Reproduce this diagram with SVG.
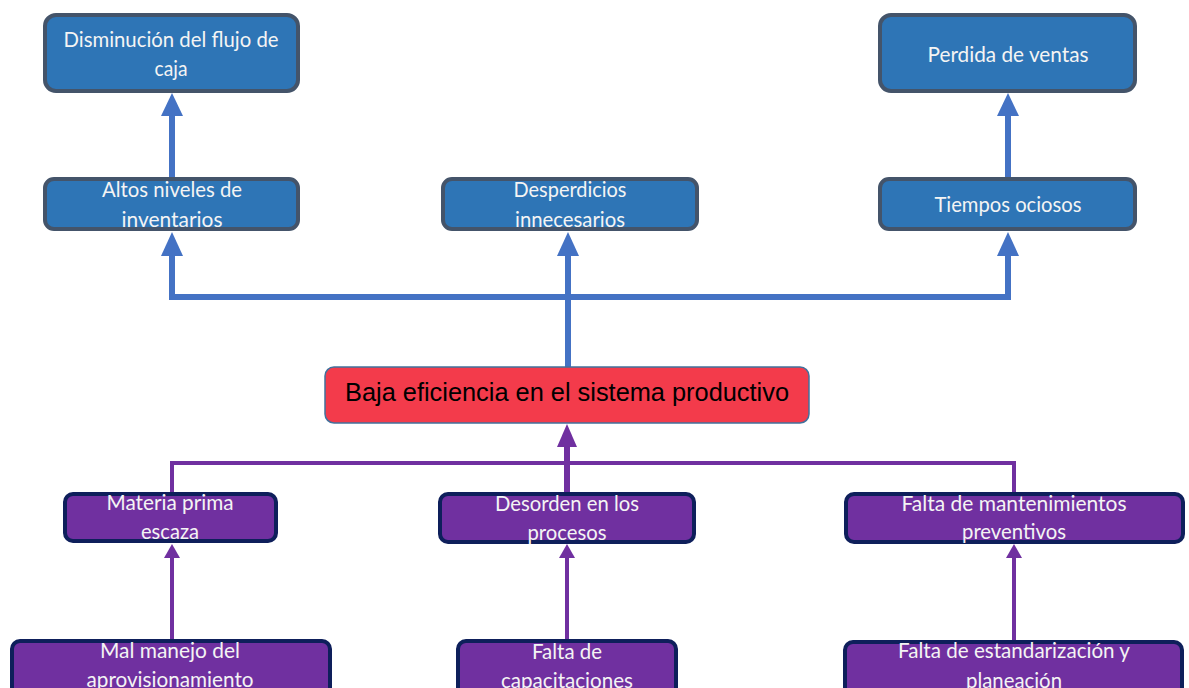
<svg xmlns="http://www.w3.org/2000/svg" width="1189" height="688" viewBox="0 0 1189 688">
  <defs>
    <style>
      .eff { fill: #2E75B6; stroke: #44546A; stroke-width: 4; }
      .cause { fill: #7030A0; stroke: #0E1F5B; stroke-width: 4; }
      .core { fill: #F33B4B; stroke: #41719C; stroke-width: 1.5; }
      .lbl { font-family: Lato, "Open Sans", "Noto Sans", sans-serif; font-size: 22px; fill: #F4F4F4; text-anchor: middle; }
      .core-lbl { font-family: "Liberation Sans", Arial, sans-serif; font-size: 25px; fill: #000000; text-anchor: middle; }
      .blue { stroke: #4472C4; stroke-width: 6; fill: none; }
      .purple { stroke: #7030A0; stroke-width: 4; fill: none; }
      .purple-thick { stroke: #7030A0; stroke-width: 6; fill: none; }
      .head-blue { fill: #4472C4; }
      .head-purple { fill: #7030A0; }
    </style>
  </defs>

  <rect width="1189" height="688" fill="#FFFFFF"/>

  <!-- connectors -->
  <g id="connectors">
    <!-- effects tree (blue) -->
    <polyline class="blue" points="172,256 172,297 1008,297 1008,256"/>
    <line class="blue" x1="568" y1="367" x2="568" y2="256"/>
    <polygon class="head-blue" points="172,232 161,256 183,256"/>
    <polygon class="head-blue" points="568,232 557,256 579,256"/>
    <polygon class="head-blue" points="1008,232 997,256 1019,256"/>
    <line class="blue" x1="172" y1="178" x2="172" y2="115"/>
    <polygon class="head-blue" points="172,93 161,116 183,116"/>
    <line class="blue" x1="1008" y1="178" x2="1008" y2="115"/>
    <polygon class="head-blue" points="1008,93 997,116 1019,116"/>

    <!-- causes tree (purple) -->
    <polyline class="purple" points="172,492 172,463 1014,463 1014,492"/>
    <line class="purple-thick" x1="567" y1="492" x2="567" y2="445"/>
    <polygon class="head-purple" points="567,424 557,447 577,447"/>
    <line class="purple" x1="172" y1="640" x2="172" y2="556"/>
    <polygon class="head-purple" points="172,544 164,558 180,558"/>
    <line class="purple" x1="567" y1="640" x2="567" y2="556"/>
    <polygon class="head-purple" points="567,544 559,558 575,558"/>
    <line class="purple" x1="1014" y1="640" x2="1014" y2="556"/>
    <polygon class="head-purple" points="1014,544 1006,558 1022,558"/>
  </g>

  <!-- effects -->
  <g id="node-disminucion">
    <rect class="eff" x="45" y="15" width="253" height="76" rx="11"/>
    <text class="lbl" x="171" y="47" textLength="215" lengthAdjust="spacingAndGlyphs">Disminución del flujo de</text>
    <text class="lbl" x="171" y="76" textLength="33" lengthAdjust="spacingAndGlyphs">caja</text>
  </g>
  <g id="node-perdida">
    <rect class="eff" x="880" y="15" width="255" height="76" rx="11"/>
    <text class="lbl" x="1008" y="62" textLength="161" lengthAdjust="spacingAndGlyphs">Perdida de ventas</text>
  </g>
  <g id="node-altos">
    <rect class="eff" x="45" y="179" width="253" height="50" rx="9"/>
    <text class="lbl" x="172" y="197" textLength="140" lengthAdjust="spacingAndGlyphs">Altos niveles de</text>
    <text class="lbl" x="172" y="227" textLength="101" lengthAdjust="spacingAndGlyphs">inventarios</text>
  </g>
  <g id="node-desperdicios">
    <rect class="eff" x="443" y="179" width="254" height="50" rx="9"/>
    <text class="lbl" x="570" y="197" textLength="113" lengthAdjust="spacingAndGlyphs">Desperdicios</text>
    <text class="lbl" x="570" y="227" textLength="110" lengthAdjust="spacingAndGlyphs">innecesarios</text>
  </g>
  <g id="node-tiempos">
    <rect class="eff" x="880" y="179" width="255" height="50" rx="9"/>
    <text class="lbl" x="1008" y="212" textLength="147" lengthAdjust="spacingAndGlyphs">Tiempos ociosos</text>
  </g>

  <!-- core problem -->
  <g id="node-problema">
    <rect class="core" x="325" y="367" width="484" height="56" rx="9"/>
    <text class="core-lbl" x="567" y="401" textLength="444" lengthAdjust="spacingAndGlyphs">Baja eficiencia en el sistema productivo</text>
  </g>

  <!-- causes -->
  <g id="node-materia">
    <rect class="cause" x="65" y="494" width="211" height="47" rx="8"/>
    <text class="lbl" x="170" y="510" textLength="127" lengthAdjust="spacingAndGlyphs">Materia prima</text>
    <text class="lbl" x="170" y="539" textLength="58" lengthAdjust="spacingAndGlyphs">escaza</text>
  </g>
  <g id="node-desorden">
    <rect class="cause" x="440" y="494" width="254" height="48" rx="8"/>
    <text class="lbl" x="567" y="511" textLength="144" lengthAdjust="spacingAndGlyphs">Desorden en los</text>
    <text class="lbl" x="567" y="540" textLength="79" lengthAdjust="spacingAndGlyphs">procesos</text>
  </g>
  <g id="node-mantenimientos">
    <rect class="cause" x="846" y="494" width="337" height="48" rx="8"/>
    <text class="lbl" x="1014" y="511" textLength="225" lengthAdjust="spacingAndGlyphs">Falta de mantenimientos</text>
    <text class="lbl" x="1014" y="539" textLength="104" lengthAdjust="spacingAndGlyphs">preventivos</text>
  </g>
  <g id="node-aprovisionamiento">
    <rect class="cause" x="12" y="641" width="318" height="60" rx="8"/>
    <text class="lbl" x="170" y="658" textLength="140" lengthAdjust="spacingAndGlyphs">Mal manejo del</text>
    <text class="lbl" x="170" y="687" textLength="167" lengthAdjust="spacingAndGlyphs">aprovisionamiento</text>
  </g>
  <g id="node-capacitaciones">
    <rect class="cause" x="458" y="641" width="218" height="60" rx="8"/>
    <text class="lbl" x="567" y="659" textLength="70" lengthAdjust="spacingAndGlyphs">Falta de</text>
    <text class="lbl" x="567" y="688" textLength="132" lengthAdjust="spacingAndGlyphs">capacitaciones</text>
  </g>
  <g id="node-estandarizacion">
    <rect class="cause" x="845" y="642" width="337" height="60" rx="8"/>
    <text class="lbl" x="1014" y="658" textLength="232" lengthAdjust="spacingAndGlyphs">Falta de estandarización y</text>
    <text class="lbl" x="1014" y="688" textLength="96" lengthAdjust="spacingAndGlyphs">planeación</text>
  </g>
</svg>
